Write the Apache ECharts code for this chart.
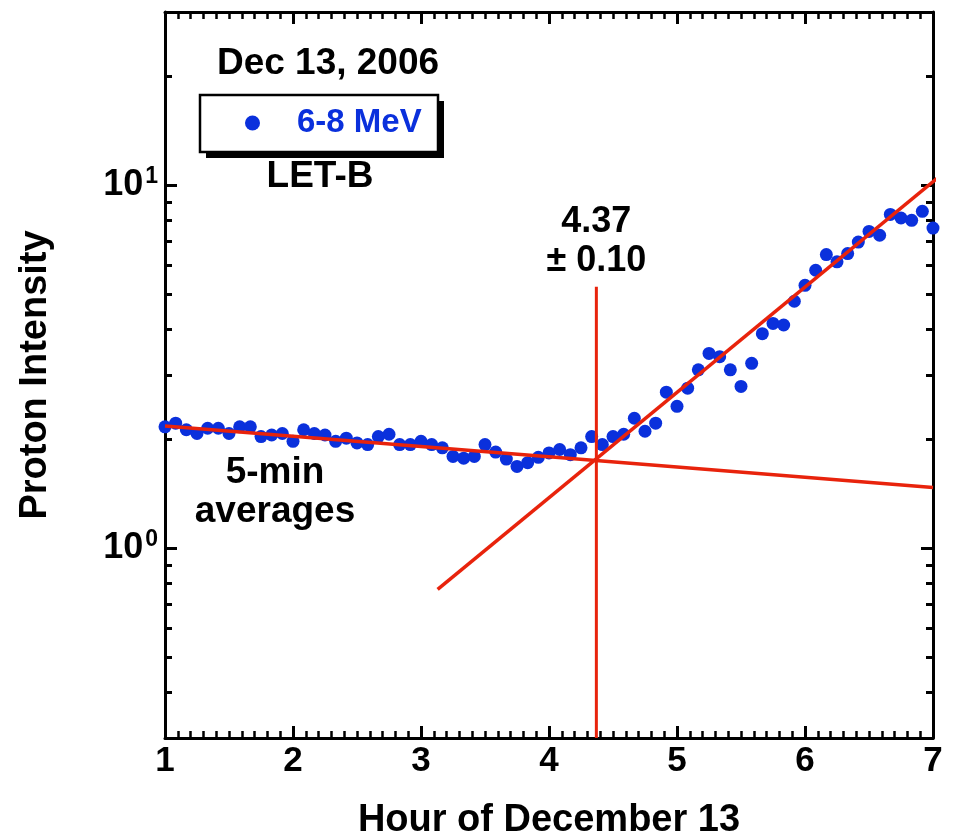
<!DOCTYPE html>
<html>
<head>
<meta charset="utf-8">
<script src="https://cdn.jsdelivr.net/npm/echarts@6/dist/echarts.min.js"></script>
<style>
  html, body { margin: 0; padding: 0; background: #fff; }
  #chart { width: 961px; height: 838px; }
</style>
</head>
<body>
<div id="chart"></div>
<script>
// LET-B 6-8 MeV proton intensity, 5-minute averages, Dec 13, 2006
const startHour = 1;
const stepHours = 5 / 60;
const intensity = [
  2.16, 2.21, 2.12, 2.07, 2.14, 2.14, 2.07, 2.16, 2.16, 2.03,
  2.05, 2.07, 1.97, 2.12, 2.07, 2.05, 1.97, 2.01, 1.95, 1.93,
  2.03, 2.06, 1.93, 1.93, 1.97, 1.93, 1.89, 1.79, 1.77, 1.79,
  1.93, 1.84, 1.76, 1.68, 1.72, 1.78, 1.83, 1.87, 1.81, 1.89,
  2.03, 1.93, 2.03, 2.06, 2.28, 2.10, 2.21, 2.69, 2.46, 2.76,
  3.10, 3.44, 3.37, 3.10, 2.79, 3.23, 3.90, 4.16, 4.12, 4.79,
  5.30, 5.83, 6.44, 6.15, 6.48, 6.97, 7.46, 7.28, 8.31, 8.12,
  8.00, 8.47, 7.62
];
const hours = intensity.map((_, i) => startHour + i * stepHours);

// Fitted background (pre-onset) and rising-phase lines
const backgroundFit = [[1, 2.17], [7, 1.47]];
const risingFit = [[3.13, 0.77], [7.15, 11.3]];

// Onset time and its uncertainty
const onsetHour = 4.37;
const onsetErr = 0.10;
const onsetMarker = [[onsetHour, 0.3], [onsetHour, 5.25]];

// Axis ranges and tick values
const xMin = 1, xMax = 7;
const yMin = 0.3, yMax = 30;
const yMajorTicks = [1, 10];
const yMinorTicks = [0.4, 0.5, 0.6, 0.7, 0.8, 0.9, 2, 3, 4, 5, 6, 7, 8, 9, 20];

const FONT = "'Liberation Sans', Arial, Helvetica, sans-serif";
const BLUE = '#0a30dc';
const RED = '#e8230c';
const AXIS_W = 3;

const chart = echarts.init(document.getElementById('chart'), null, { renderer: 'canvas' });

function xAxisDef(position, showLabels) {
  return {
    type: 'value',
    position: position,
    min: xMin,
    max: xMax,
    interval: 1,
    axisLine: { show: true, onZero: false, lineStyle: { color: '#000', width: AXIS_W } },
    axisTick: { show: true, inside: true, length: 12, lineStyle: { color: '#000', width: 3 } },
    minorTick: { show: true, splitNumber: 10, length: 7, lineStyle: { color: '#000', width: 2.5 } },
    axisLabel: {
      show: showLabels, margin: 6, color: '#000',
      fontFamily: FONT, fontWeight: 'bold', fontSize: 35
    },
    splitLine: { show: false },
    minorSplitLine: { show: false },
    name: showLabels ? 'Hour of December 13' : '',
    nameLocation: 'middle',
    nameGap: 64,
    nameTextStyle: { fontFamily: FONT, fontWeight: 'bold', fontSize: 38, color: '#000' }
  };
}

function yAxisDef(position, ticks, tickLen, withLine, withLabels) {
  return {
    type: 'log',
    logBase: 10,
    position: position,
    min: yMin,
    max: yMax,
    axisLine: { show: withLine, lineStyle: { color: '#000', width: AXIS_W } },
    axisTick: {
      show: true, inside: true, length: tickLen, customValues: ticks,
      lineStyle: { color: '#000', width: 3 }
    },
    axisLabel: withLabels ? {
      show: true,
      customValues: yMajorTicks,
      margin: 7,
      formatter: function (v) {
        return '{b|10}{s|' + Math.round(Math.log10(v)) + '}';
      },
      rich: {
        b: { fontFamily: FONT, fontWeight: 'bold', fontSize: 36, color: '#000' },
        s: { fontFamily: FONT, fontWeight: 'bold', fontSize: 23, color: '#000', padding: [0, 0, 18, 2] }
      }
    } : { show: false },
    splitLine: { show: false },
    name: withLabels ? 'Proton Intensity' : '',
    nameLocation: 'middle',
    nameGap: 110,
    nameTextStyle: { fontFamily: FONT, fontWeight: 'bold', fontSize: 38, color: '#000' }
  };
}

const option = {
  animation: false,
  backgroundColor: '#fff',
  grid: { left: 165, right: 28, top: 12, bottom: 100, containLabel: false, outerBoundsMode: 'none' },
  xAxis: [
    xAxisDef('bottom', true),
    xAxisDef('top', false)
  ],
  yAxis: [
    yAxisDef('left', yMajorTicks, 12, true, true),
    yAxisDef('left', yMinorTicks, 7, false, false),
    yAxisDef('right', yMajorTicks, 12, true, false),
    yAxisDef('right', yMinorTicks, 7, false, false)
  ],
  legend: {
    left: 245,
    top: 105,
    orient: 'horizontal',
    icon: 'circle',
    itemWidth: 15,
    itemHeight: 15,
    padding: 0,
    z: 10,
    textStyle: {
      fontFamily: FONT, fontWeight: 'bold', fontSize: 33, color: BLUE,
      lineHeight: 36, padding: [0, 0, 0, 32]
    },
    data: ['6-8 MeV']
  },
  graphic: [
    // legend frame with drop shadow
    {
      type: 'rect', z: 1,
      shape: { x: 206, y: 101, width: 238, height: 57 },
      style: { fill: '#000' }
    },
    {
      type: 'rect', z: 2,
      shape: { x: 200, y: 95, width: 238, height: 57 },
      style: { fill: '#fff', stroke: '#000', lineWidth: 2.5 }
    },
    {
      type: 'text', x: 328, y: 64,
      style: {
        text: 'Dec 13, 2006', fill: '#000', font: 'bold 37px ' + FONT,
        align: 'center', verticalAlign: 'middle'
      }
    },
    {
      type: 'text', x: 320, y: 177,
      style: {
        text: 'LET-B', fill: '#000', font: 'bold 37px ' + FONT,
        align: 'center', verticalAlign: 'middle'
      }
    },
    {
      type: 'text', x: 275, y: 473,
      style: {
        text: '5-min', fill: '#000', font: 'bold 37px ' + FONT,
        align: 'center', verticalAlign: 'middle'
      }
    },
    {
      type: 'text', x: 275, y: 512,
      style: {
        text: 'averages', fill: '#000', font: 'bold 37px ' + FONT,
        align: 'center', verticalAlign: 'middle'
      }
    }
  ],
  series: [
    {
      name: '6-8 MeV',
      type: 'scatter',
      symbol: 'circle',
      symbolSize: 13,
      itemStyle: { color: BLUE, opacity: 1 },
      data: hours.map((h, i) => [h, intensity[i]]),
      z: 2
    },
    {
      name: 'background fit',
      type: 'line',
      data: backgroundFit,
      symbol: 'none',
      lineStyle: { color: RED, width: 3.5 },
      z: 3
    },
    {
      name: 'rise fit',
      type: 'line',
      data: risingFit,
      symbol: 'none',
      clip: false,
      lineStyle: { color: RED, width: 3.5 },
      z: 3
    },
    {
      name: 'onset',
      type: 'line',
      data: [
        { value: onsetMarker[0] },
        {
          value: onsetMarker[1],
          label: {
            show: true,
            position: 'top',
            distance: 5,
            formatter: onsetHour.toFixed(2) + '\n\u00b1 ' + onsetErr.toFixed(2),
            fontFamily: FONT, fontWeight: 'bold', fontSize: 36,
            lineHeight: 39, color: '#000', align: 'center'
          }
        }
      ],
      symbol: 'circle',
      showSymbol: true,
      symbolSize: 2,
      itemStyle: { color: 'rgba(0,0,0,0)', borderWidth: 0 },
      lineStyle: { color: RED, width: 3 },
      z: 3
    }
  ]
};

chart.setOption(option);
</script>
</body>
</html>
